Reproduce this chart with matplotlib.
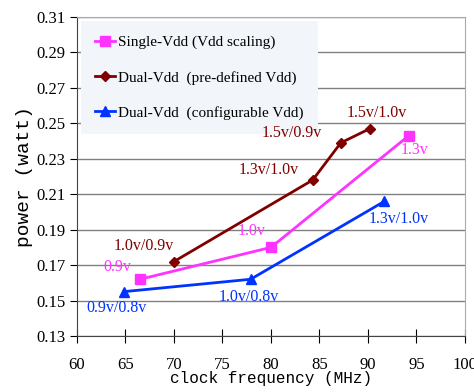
import matplotlib.pyplot as plt

plt.rcParams['font.family'] = ['Liberation Serif', 'DejaVu Serif']

# DONNEES
single_x = [66.5, 80, 94.2]
single_y = [0.162, 0.180, 0.243]
single_lbl = ["0.9v", "1.0v", "1.3v"]

predef_x = [70, 84.3, 87.2, 90.2]
predef_y = [0.172, 0.218, 0.239, 0.247]
predef_lbl = ["1.0v/0.9v", "1.3v/1.0v", "1.5v/0.9v", "1.5v/1.0v"]

config_x = [64.8, 77.9, 91.7]
config_y = [0.155, 0.162, 0.206]
config_lbl = ["0.9v/0.8v", "1.0v/0.8v", "1.3v/1.0v"]

c_pink = "#ff33ff"
c_red = "#800000"
c_blue = "#0033ff"

fig = plt.figure(figsize=(4.74, 3.92), dpi=100)
ax = fig.add_axes([0.1624, 0.1429, 0.8186, 0.8138])

ax.plot(single_x, single_y, color=c_pink, lw=2, marker="s", ms=7.5,
        label="Single-Vdd (Vdd scaling)", zorder=3)
ax.plot(predef_x, predef_y, color=c_red, lw=2, marker="D", ms=5,
        label="Dual-Vdd  (pre-defined Vdd)", zorder=3)
ax.plot(config_x, config_y, color=c_blue, lw=2, marker="^", ms=7.5,
        label="Dual-Vdd  (configurable Vdd)", zorder=3)

# etiquettes des points (decalage en points)
off_single = [(-16, 9), (-14, 11.5), (4, -10)]
off_predef = [(-22, 11), (-32, 7), (-35, 7), (5, 11)]
off_config = [(-5, -11.5), (-1, -13), (10, -13)]
for x, y, t, o in zip(single_x, single_y, single_lbl, off_single):
    ax.annotate(t, (x, y), xytext=o, textcoords="offset points",
                ha="center", va="center", color=c_pink, fontsize=11.5)
for x, y, t, o in zip(predef_x, predef_y, predef_lbl, off_predef):
    ax.annotate(t, (x, y), xytext=o, textcoords="offset points",
                ha="center", va="center", color=c_red, fontsize=11.5)
for x, y, t, o in zip(config_x, config_y, config_lbl, off_config):
    ax.annotate(t, (x, y), xytext=o, textcoords="offset points",
                ha="center", va="center", color=c_blue, fontsize=11.5)

ax.set_xlim(60, 100)
ax.set_ylim(0.13, 0.31)
ax.set_xticks(range(60, 101, 5))
ax.set_yticks([0.13 + 0.02 * i for i in range(10)])
ax.set_yticklabels(["%.2f" % (0.13 + 0.02 * i) for i in range(10)])
ax.tick_params(axis="x", direction="inout", length=10, labelsize=12, pad=10)
ax.tick_params(axis="y", direction="out", length=5, labelsize=12)
ax.grid(axis="y", color="#808080", lw=1)
ax.set_axisbelow(True)

for s in ["top", "right"]:
    ax.spines[s].set_color("#aaaaaa")
ax.spines["left"].set_color("#444444")
ax.spines["bottom"].set_color("#444444")

ax.set_xlabel("clock frequency (MHz)", fontsize=11.5, family="Liberation Mono", labelpad=-1)
ax.set_ylabel("power (watt)", fontsize=14, family="Liberation Mono", labelpad=2)

leg = ax.legend(loc="upper left", bbox_to_anchor=(0.0, 1.0), fontsize=11,
                frameon=True, fancybox=False, edgecolor="none",
                facecolor="#f2f6fa", framealpha=1, handlelength=1.3,
                handletextpad=0.2, labelspacing=1.4, borderpad=0.95,
                borderaxespad=0.25)
leg.set_zorder(2)

fig.savefig("out.png", dpi=100)
